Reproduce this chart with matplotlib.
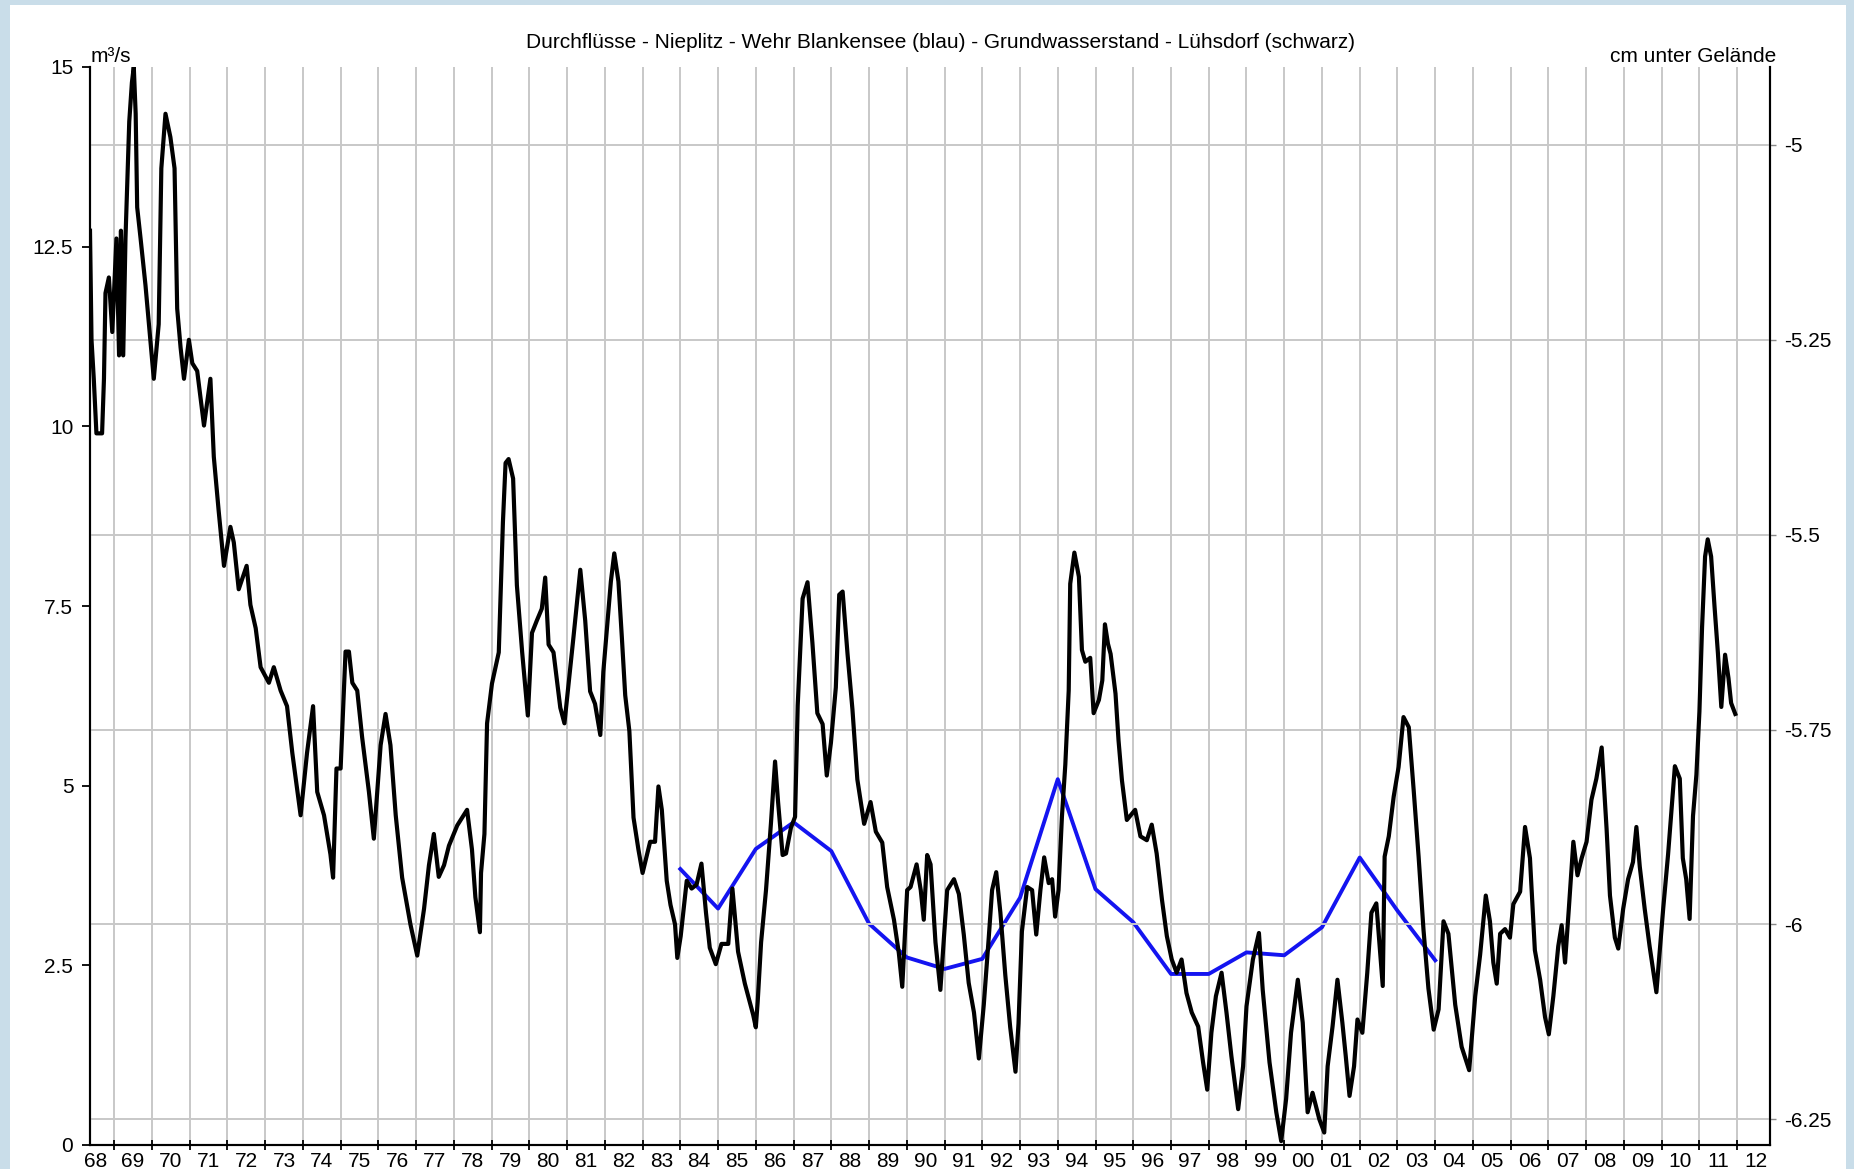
import matplotlib.pyplot as plt
from matplotlib.ticker import FuncFormatter

plt.rcParams["font.family"] = ["Liberation Sans", "DejaVu Sans"]
plt.rcParams["axes.unicode_minus"] = False

TITLE = "Durchflüsse - Nieplitz - Wehr Blankensee (blau) - Grundwasserstand - Lühsdorf (schwarz)"

# Grundwasserstand Lühsdorf (schwarz, rechte Achse)
gw_year = [
    1968.36, 1968.40, 1968.46, 1968.53, 1968.68, 1968.73, 1968.77, 1968.86, 1968.95,
    1969.06, 1969.13, 1969.18, 1969.24, 1969.30, 1969.34, 1969.40, 1969.47, 1969.52,
    1969.57, 1969.61, 1969.70, 1969.83, 1969.96, 1970.05, 1970.18, 1970.25, 1970.36,
    1970.49, 1970.60, 1970.67, 1970.76, 1970.85, 1970.98, 1971.07, 1971.20, 1971.38,
    1971.55, 1971.64, 1971.77, 1971.91, 1972.08, 1972.17, 1972.30, 1972.51, 1972.61,
    1972.75, 1972.88, 1973.10, 1973.23, 1973.41, 1973.58, 1973.72, 1973.94, 1974.11,
    1974.27, 1974.38, 1974.56, 1974.73, 1974.80, 1974.89, 1975.00, 1975.13, 1975.22,
    1975.31, 1975.44, 1975.57, 1975.75, 1975.88, 1976.06, 1976.19, 1976.32, 1976.46,
    1976.63, 1976.85, 1977.03, 1977.21, 1977.34, 1977.47, 1977.60, 1977.74, 1977.87,
    1978.09, 1978.35, 1978.48, 1978.57, 1978.69, 1978.72, 1978.81, 1978.88, 1979.01,
    1979.19, 1979.30, 1979.37, 1979.45, 1979.57, 1979.67, 1979.81, 1979.96, 1980.07,
    1980.20, 1980.33, 1980.42, 1980.51, 1980.64, 1980.82, 1980.93, 1981.17, 1981.35,
    1981.48, 1981.61, 1981.74, 1981.88, 1981.96, 1982.10, 1982.16, 1982.25, 1982.36,
    1982.45, 1982.54, 1982.65, 1982.76, 1982.89, 1983.00, 1983.20, 1983.33, 1983.42,
    1983.51, 1983.64, 1983.74, 1983.86, 1983.92, 1984.01, 1984.17, 1984.30, 1984.43,
    1984.56, 1984.68, 1984.78, 1984.94, 1985.09, 1985.27, 1985.38, 1985.53, 1985.71,
    1985.93, 1986.00, 1986.05, 1986.14, 1986.27, 1986.40, 1986.51, 1986.59, 1986.71,
    1986.80, 1986.93, 1987.04, 1987.11, 1987.24, 1987.37, 1987.50, 1987.63, 1987.77,
    1987.88, 1987.99, 1988.12, 1988.21, 1988.30, 1988.43, 1988.56, 1988.69, 1988.87,
    1989.04, 1989.18, 1989.35, 1989.48, 1989.66, 1989.79, 1989.88, 1990.01, 1990.10,
    1990.26, 1990.37, 1990.45, 1990.54, 1990.63, 1990.76, 1990.89, 1991.07, 1991.25,
    1991.38, 1991.51, 1991.64, 1991.78, 1991.91, 1992.04, 1992.17, 1992.26, 1992.37,
    1992.48, 1992.61, 1992.74, 1992.88, 1992.96, 1993.05, 1993.19, 1993.32, 1993.43,
    1993.54, 1993.64, 1993.76, 1993.85, 1993.93, 1994.02, 1994.11, 1994.20, 1994.29,
    1994.33, 1994.44, 1994.56, 1994.64, 1994.73, 1994.86, 1994.95, 1995.09, 1995.18,
    1995.25, 1995.33, 1995.40, 1995.53, 1995.61, 1995.70, 1995.83, 1996.05, 1996.19,
    1996.36, 1996.49, 1996.62, 1996.76, 1996.89, 1997.02, 1997.15, 1997.28, 1997.41,
    1997.55, 1997.72, 1997.85, 1997.96, 1998.07, 1998.19, 1998.34, 1998.47, 1998.60,
    1998.78, 1998.91, 1999.00, 1999.17, 1999.33, 1999.43, 1999.61, 1999.79, 1999.92,
    2000.05, 2000.18, 2000.36, 2000.49, 2000.62, 2000.75, 2000.93, 2001.06, 2001.15,
    2001.28, 2001.41, 2001.54, 2001.63, 2001.73, 2001.85, 2001.94, 2002.07, 2002.20,
    2002.31, 2002.44, 2002.55, 2002.61, 2002.66, 2002.77, 2002.90, 2003.03, 2003.16,
    2003.30, 2003.43, 2003.56, 2003.69, 2003.82, 2003.96, 2004.09, 2004.22, 2004.35,
    2004.53, 2004.70, 2004.90, 2005.06, 2005.19, 2005.34, 2005.45, 2005.54, 2005.63,
    2005.72, 2005.85, 2005.98, 2006.07, 2006.25, 2006.38, 2006.51, 2006.64, 2006.78,
    2006.91, 2007.01, 2007.13, 2007.26, 2007.35, 2007.44, 2007.54, 2007.66, 2007.77,
    2007.88, 2008.01, 2008.14, 2008.27, 2008.41, 2008.54, 2008.63, 2008.76, 2008.85,
    2008.98, 2009.11, 2009.24, 2009.33, 2009.42, 2009.55, 2009.68, 2009.86, 2010.04,
    2010.17, 2010.35, 2010.48, 2010.56, 2010.65, 2010.74, 2010.83, 2010.92, 2011.00,
    2011.07, 2011.15, 2011.22, 2011.31, 2011.40, 2011.49, 2011.58, 2011.68, 2011.77,
    2011.84, 2011.95,
]
gw_level = [
    -5.11, -5.25, -5.30, -5.37, -5.37, -5.30, -5.19, -5.17, -5.24,
    -5.12, -5.27, -5.11, -5.27, -5.12, -5.06, -4.97, -4.92, -4.90,
    -4.96, -5.08, -5.12, -5.18, -5.25, -5.30, -5.23, -5.03, -4.96,
    -4.99, -5.03, -5.21, -5.26, -5.30, -5.25, -5.28, -5.29, -5.36,
    -5.30, -5.40, -5.47, -5.54, -5.49, -5.51, -5.57, -5.54, -5.59,
    -5.62, -5.67, -5.69, -5.67, -5.70, -5.72, -5.78, -5.86, -5.78,
    -5.72, -5.83, -5.86, -5.91, -5.94, -5.80, -5.80, -5.65, -5.65,
    -5.69, -5.70, -5.76, -5.83, -5.89, -5.77, -5.73, -5.77, -5.86,
    -5.94, -6.00, -6.04, -5.98, -5.924, -5.884, -5.939, -5.924, -5.899,
    -5.873, -5.853, -5.904, -5.965, -6.010, -5.934, -5.884, -5.742, -5.691,
    -5.651, -5.484, -5.408, -5.403, -5.428, -5.565, -5.651, -5.732, -5.626,
    -5.610, -5.595, -5.555, -5.641, -5.651, -5.722, -5.742, -5.631, -5.545,
    -5.610, -5.701, -5.717, -5.757, -5.676, -5.595, -5.560, -5.524, -5.560,
    -5.631, -5.706, -5.752, -5.863, -5.904, -5.934, -5.894, -5.894, -5.823,
    -5.853, -5.944, -5.975, -6.000, -6.043, -6.015, -5.944, -5.954, -5.949,
    -5.922, -5.985, -6.030, -6.051, -6.025, -6.025, -5.954, -6.035, -6.076,
    -6.116, -6.132, -6.099, -6.023, -5.956, -5.871, -5.791, -5.843, -5.911,
    -5.909, -5.876, -5.862, -5.719, -5.582, -5.561, -5.639, -5.729, -5.743,
    -5.809, -5.767, -5.696, -5.577, -5.573, -5.653, -5.724, -5.814, -5.871,
    -5.843, -5.881, -5.895, -5.952, -5.994, -6.037, -6.080, -5.956, -5.952,
    -5.923, -5.956, -5.994, -5.911, -5.923, -6.023, -6.084, -5.956, -5.942,
    -5.961, -6.013, -6.075, -6.113, -6.172, -6.103, -6.018, -5.956, -5.933,
    -5.985, -6.065, -6.132, -6.189, -6.127, -6.009, -5.952, -5.956, -6.013,
    -5.956, -5.914, -5.947, -5.942, -5.990, -5.956, -5.862, -5.795, -5.700,
    -5.563, -5.523, -5.554, -5.648, -5.663, -5.658, -5.729, -5.712, -5.687,
    -5.615, -5.640, -5.653, -5.704, -5.764, -5.815, -5.866, -5.853, -5.887,
    -5.892, -5.872, -5.909, -5.968, -6.015, -6.045, -6.062, -6.045, -6.088,
    -6.113, -6.131, -6.177, -6.212, -6.139, -6.092, -6.062, -6.113, -6.169,
    -6.237, -6.182, -6.105, -6.045, -6.011, -6.084, -6.177, -6.241, -6.278,
    -6.224, -6.139, -6.071, -6.126, -6.241, -6.216, -6.250, -6.267, -6.182,
    -6.131, -6.071, -6.126, -6.169, -6.220, -6.182, -6.122, -6.139, -6.062,
    -5.985, -5.973, -6.041, -6.079, -5.913, -5.887, -5.836, -5.798, -5.734,
    -5.747, -5.828, -5.913, -6.007, -6.082, -6.135, -6.109, -5.996, -6.012,
    -6.103, -6.157, -6.187, -6.092, -6.039, -5.963, -5.996, -6.049, -6.076,
    -6.012, -6.006, -6.017, -5.974, -5.958, -5.875, -5.915, -6.033, -6.071,
    -6.119, -6.141, -6.092, -6.028, -6.001, -6.049, -5.980, -5.894, -5.937,
    -5.915, -5.894, -5.840, -5.813, -5.773, -5.877, -5.963, -6.017, -6.031,
    -5.980, -5.942, -5.920, -5.875, -5.926, -5.980, -6.028, -6.087, -5.980,
    -5.910, -5.797, -5.813, -5.915, -5.942, -5.993, -5.861, -5.808, -5.727,
    -5.619, -5.528, -5.506, -5.528, -5.592, -5.652, -5.721, -5.654, -5.684,
    -5.716, -5.730,
]

# Durchfluss Nieplitz - Wehr Blankensee (blau, linke Achse), Jahreswerte
q_year = list(range(1984, 2005))
q_flow = [3.84, 3.29, 4.12, 4.49, 4.09, 3.08, 2.61, 2.45, 2.59, 3.44, 5.09,
          3.56, 3.10, 2.38, 2.38, 2.68, 2.64, 3.03, 4.00, 3.26, 2.57]

year_labels = [f"{y % 100:02d}" for y in range(1968, 2013)]
q_ticks = [0, 2.5, 5, 7.5, 10, 12.5, 15]
gw_ticks = [-6.25, -6.0, -5.75, -5.5, -5.25, -5.0]

W, H = 1854, 1169
fig = plt.figure(figsize=(W / 100, H / 100), dpi=100, facecolor="#c9dde9")
fig.patches.append(plt.Rectangle((10 / W, 0), 1836 / W, 1164 / H, transform=fig.transFigure,
                                 facecolor="white", edgecolor="none", zorder=-1))

ax = fig.add_axes([90 / W, 1 - 1145 / H, 1680 / W, 1078 / H])
ax.set_xlim(1968.36, 2012.87)
ax.set_ylim(0, 15)
ax2 = ax.twinx()
ax2.set_ylim(-6.283, -4.90)

grid_kw = dict(color="#c8c8c8", linewidth=1.4)
fmt = FuncFormatter(lambda v, _: f"{v:g}")

# x axis: ticks at year boundaries, labels in the middle of each year
ax.set_xticks(list(range(1969, 2013)))
ax.set_xticklabels([])
ax.set_xticks([y + 0.5 for y in range(1968, 2013)], minor=True)
ax.set_xticklabels(year_labels, minor=True, fontsize=15)
ax.tick_params(axis="x", which="major", direction="inout", length=7, width=1.3)
ax.tick_params(axis="x", which="minor", length=0, pad=5)
ax.grid(axis="x", which="major", **grid_kw)

ax.set_yticks(q_ticks)
ax.yaxis.set_major_formatter(fmt)
ax.tick_params(axis="y", direction="out", length=6, width=1.3, labelsize=15, pad=6)

ax2.set_yticks(gw_ticks)
ax2.yaxis.set_major_formatter(fmt)
ax2.tick_params(axis="y", direction="out", length=4, width=1, color="#888888",
                labelsize=15, pad=6)
ax2.grid(axis="y", **grid_kw)
ax.set_axisbelow(True)
ax2.set_axisbelow(True)

for a in (ax, ax2):
    a.spines["top"].set_visible(False)
    for s in ("left", "right", "bottom"):
        a.spines[s].set_linewidth(1.5)

ax.plot(q_year, q_flow, color="#1414f0", linewidth=2.8, zorder=3)
ax2.plot(gw_year, gw_level, color="black", linewidth=3.0, zorder=3)

fig.text(940 / W, 1 - 43 / H, TITLE, ha="center", va="center", fontsize=15)
fig.text(91 / W, 1 - 56 / H, "m³/s", ha="left", va="center", fontsize=15)
fig.text(1776 / W, 1 - 56 / H, "cm unter Gelände", ha="right", va="center", fontsize=15)

fig.savefig("out.png", dpi=100, facecolor=fig.get_facecolor())
